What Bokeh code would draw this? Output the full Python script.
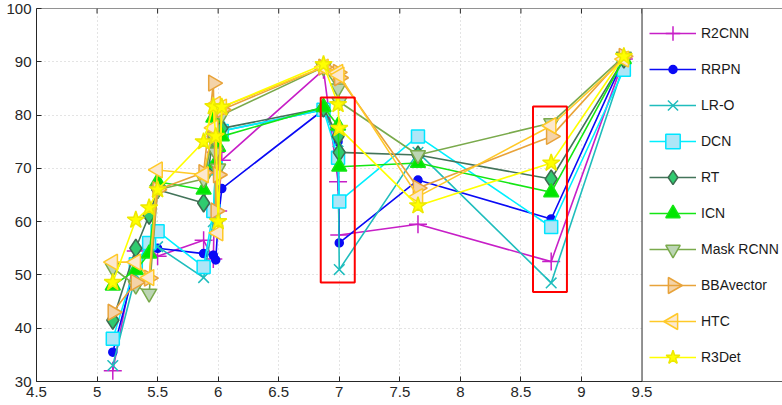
import math
from bokeh.plotting import figure
from bokeh.models import (Range1d, FixedTicker, Span, BoxAnnotation, Legend, LegendItem)
from bokeh.embed import file_html
from bokeh.resources import INLINE

# ---------------- data ----------------
x_pos = [5.13, 5.32, 5.43, 5.5, 5.88, 5.96, 5.98, 6.0, 6.03, 6.87, 6.99, 7.0, 7.65, 8.75, 9.35]

R2CNN     = [32.0, 54.5, 55.0, 53.5, 56.5, 53.0, 73.0, 62.0, 71.5, 88.5, 67.5, 57.5, 59.5, 52.5, 90.5]
RRPN      = [35.5, 52.0, 55.6, 55.0, 54.0, 53.7, 52.8, 60.0, 66.2, 81.0, 75.0, 56.0, 67.8, 60.5, 90.5]
LR_O      = [33.0, 50.0, 56.0, 55.3, 49.5, 60.0, 72.0, 75.0, 77.0, 81.0, 75.0, 51.0, 73.0, 48.5, 89.5]
DCN       = [38.0, 52.0, 56.0, 58.2, 51.5, 62.0, 70.0, 77.5, 77.0, 81.0, 72.0, 63.8, 76.0, 59.0, 88.5]
RT        = [41.5, 55.0, 61.2, 66.0, 63.5, 76.0, 70.0, 77.0, 77.5, 81.3, 76.0, 73.0, 72.5, 68.0, 90.5]
ICN       = [48.0, 50.9, 54.0, 67.5, 66.0, 79.5, 71.0, 74.0, 76.0, 81.5, 78.0, 70.3, 71.0, 65.5, 90.5]
MaskRCNN  = [51.3, 48.0, 46.5, 66.0, 68.0, 76.0, 73.0, 70.0, 80.0, 89.0, 85.0, 82.5, 72.5, 78.5, 91.0]
BBAvector = [43.0, 48.6, 49.4, 66.0, 69.2, 86.0, 62.0, 68.8, 81.0, 89.0, 88.0, 87.0, 66.3, 76.0, 91.0]
HTC       = [52.4, 52.4, 49.5, 69.7, 68.8, 77.6, 82.0, 57.9, 81.5, 89.0, 88.0, 87.5, 64.7, 78.0, 90.5]
R3Det     = [48.6, 60.3, 62.6, 66.0, 75.0, 81.6, 76.0, 60.0, 81.5, 89.5, 82.0, 77.5, 63.0, 71.0, 91.0]

names = ["R2CNN", "RRPN", "LR-O", "DCN", "RT", "ICN", "Mask RCNN", "BBAvector", "HTC", "R3Det"]
series = [R2CNN, RRPN, LR_O, DCN, RT, ICN, MaskRCNN, BBAvector, HTC, R3Det]

x_ticks = [4.5, 5.0, 5.5, 6.0, 6.5, 7.0, 7.5, 8.0, 8.5, 9.0, 9.5]
y_ticks = [30, 40, 50, 60, 70, 80, 90, 100]

# ---------------- styles ----------------
styles = [
    # line color, marker, size, fill, edge, angle, legend marker size
    ("#C71FC7", "cross", 18, "#C71FC7", "#C71FC7", 0.0, None),
    ("#0A0AF5", "circle", 8, "#0A0AF5", "#0A0AF5", 0.0, 8),
    ("#1FBDBD", "x", 15, "#1FBDBD", "#1FBDBD", 0.0, None),
    ("#00F0FF", "square", 13, "#AEE6F7", "#00E5FF", 0.0, None),
    ("#43745A", "diamond", 18, "#2FCB6F", "#3D6B50", 0.0, None),
    ("#14E614", "triangle", 15, "#00E600", "#14E614", 0.0, None),
    ("#7AAA4C", "inverted_triangle", 15, "#BCD5B4", "#7AAA4C", 0.0, None),
    ("#E8A33A", "triangle", 16, "#F4D3A8", "#E8A33A", -math.pi / 2, 16),
    ("#FFC928", "triangle", 16, "#FCE8CF", "#FFC928", math.pi / 2, 16),
    ("#FFFF00", "star", 18, "#FFFF00", "#EDE800", 0.0, None),
]

X0, X1, Y0, Y1 = 4.5, 10.66, 30, 100
W, H = 782, 405
BL, BR, BT, BB = 36, 0, 8, 24

p = figure(width=W, height=H, output_backend="svg", toolbar_location=None,
           x_range=Range1d(X0, X1), y_range=Range1d(Y0, Y1),
           min_border_left=BL, min_border_right=BR, min_border_top=BT, min_border_bottom=BB)
p.outline_line_color = None
p.background_fill_color = "white"
p.border_fill_color = "white"

for ax, ticks in ((p.xaxis[0], x_ticks), (p.yaxis[0], y_ticks)):
    ax.ticker = FixedTicker(ticks=ticks)
    ax.major_tick_in = 5
    ax.major_tick_out = 0
    ax.minor_tick_line_color = None
    ax.axis_line_color = "#262626"
    ax.major_tick_line_color = "#262626"
    ax.major_label_text_font = "Liberation Sans"
    ax.major_label_text_font_size = "15px"
    ax.major_label_text_color = "#262626"
    ax.major_label_standoff = 5

p.xgrid.ticker = FixedTicker(ticks=x_ticks)
p.ygrid.ticker = FixedTicker(ticks=y_ticks)
for g in (p.xgrid[0], p.ygrid[0]):
    g.grid_line_color = "#c8c8c8"
    g.grid_line_dash = "1 3"
    g.grid_line_width = 1

frame_w = W - BL - BR
frame_h = H - BT - BB

def px_to_x(px):
    return X0 + (px - BL) * (X1 - X0) / frame_w

def py_to_y(py):
    return Y1 - (py - BT) * (Y1 - Y0) / frame_h

# legend layout (screen px)
LG_PAD, LG_ITEM, LG_GW, LG_STAND = 6, 36, 47, 5
LG_X, LG_Y = 613, 6
lg_h = 2 * LG_PAD + LG_ITEM * len(names)
item0_cy = BT + frame_h - LG_Y - lg_h + 2 * LG_PAD + LG_ITEM / 2.0
glyph_cx = BL + LG_X + LG_GW / 2.0

items = []
overlay_specs = []
for i, (name, ys, (lc, mk, sz, fc, ec, ang, lsz)) in enumerate(zip(names, series, styles)):
    lr = p.line(x_pos, ys, line_color=lc, line_width=1.6)
    sr = p.scatter(x_pos, ys, marker=mk, size=sz, fill_color=fc, line_color=ec,
                   line_width=1.5, angle=ang)
    if lsz is None:
        items.append(LegendItem(label=name, renderers=[lr, sr]))
    else:
        items.append(LegendItem(label=name, renderers=[lr]))
        overlay_specs.append((i, mk, lsz, fc, ec, ang))

# red highlight boxes
p.add_layout(BoxAnnotation(left=6.847, right=7.128, bottom=48.6, top=83.3,
                           fill_alpha=0, line_color="#FF0000", line_alpha=1, line_width=2))
p.add_layout(BoxAnnotation(left=8.6, right=8.88, bottom=46.8, top=81.6,
                           fill_alpha=0, line_color="#FF0000", line_alpha=1, line_width=2))

# legend panel background (white)
p.add_layout(BoxAnnotation(left=9.5, fill_color="white", fill_alpha=1, line_color=None))

# legend symbols the legend cannot draw itself (rotated / small markers)
for i, mk, lsz, fc, ec, ang in overlay_specs:
    cy = item0_cy + LG_ITEM * i
    r = p.scatter([px_to_x(glyph_cx)], [py_to_y(cy)], marker=mk, size=lsz,
                  fill_color=fc, line_color=ec, line_width=1.5, angle=ang)
    r.level = "overlay"

lg = Legend(items=items, location=(LG_X, LG_Y), orientation="vertical")
lg.padding = LG_PAD
lg.spacing = 0
lg.margin = 0
lg.glyph_width = LG_GW
lg.glyph_height = LG_ITEM
lg.label_height = LG_ITEM
lg.label_standoff = LG_STAND
lg.label_text_font = "Liberation Sans"
lg.label_text_font_size = "14px"
lg.label_text_color = "#1a1a1a"
lg.border_line_color = None
lg.background_fill_alpha = 0
p.add_layout(lg, "center")

# box frame: top border with inward ticks, and legend separator
p.add_layout(Span(location=Y1, dimension="width", line_color="#262626", line_width=1, level="overlay"))
tick_len = 5 * (Y1 - Y0) / frame_h
p.segment(x0=x_ticks, y0=[Y1] * len(x_ticks), x1=x_ticks, y1=[Y1 - tick_len] * len(x_ticks),
          line_color="#262626", line_width=1)
p.add_layout(Span(location=9.5, dimension="height", line_color="#262626", line_width=1, level="overlay"))

open("out.html", "w").write(file_html(p, INLINE))
